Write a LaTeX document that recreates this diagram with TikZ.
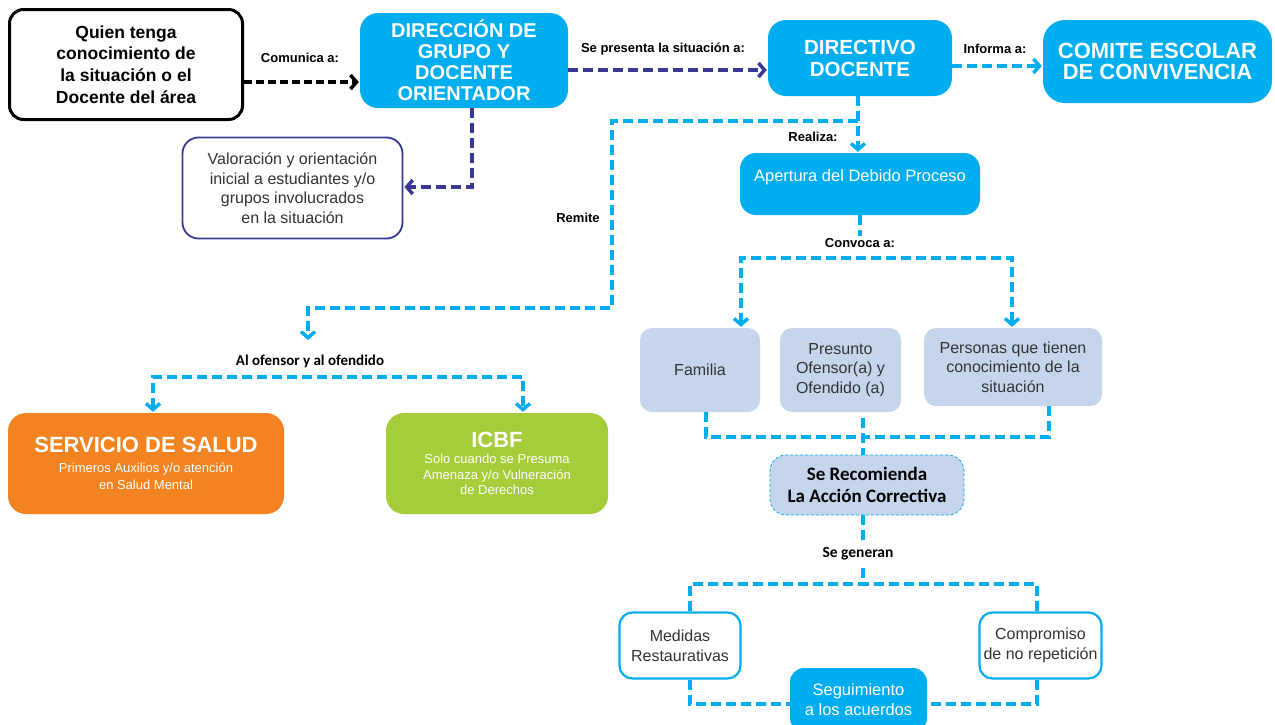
\documentclass[tikz,border=0pt]{standalone}
\usepackage{fontspec}
\setmainfont{Liberation Sans}
\newfontfamily\calib{Carlito}
\usetikzlibrary{arrows.meta,calc}
\definecolor{cy}{HTML}{00AEEF}
\definecolor{dkb}{HTML}{3A3895}
\definecolor{lb}{HTML}{C5D6EC}
\definecolor{org}{HTML}{F38320}
\definecolor{grn}{HTML}{A5CD39}
\definecolor{txt}{HTML}{333333}
\begin{document}
\begin{tikzpicture}[x=1pt,y=-1pt,
  cybox/.style={rectangle,fill=cy,draw=none,rounded corners=18pt,text=white,align=center,inner sep=0pt},
  lbbox/.style={rectangle,fill=lb,draw=none,rounded corners=12pt,text=txt,align=center,inner sep=0pt,
     font=\fontsize{16}{19.5}\selectfont},
  whbox/.style={rectangle,fill=white,draw=cy,line width=2.2pt,rounded corners=13pt,text=txt,align=center,inner sep=0pt,
     font=\fontsize{16}{20}\selectfont},
  lbl/.style={font=\bfseries\fontsize{13}{15}\selectfont,text=black,inner sep=0pt},
  link/.style={line width=3.5pt,dash pattern=on 10pt off 5pt},
  tip/.style={-{Straight Barb[length=6pt,width=14pt]},shorten >=1pt},
  tips/.style={{Straight Barb[length=6pt,width=14pt]}-{Straight Barb[length=6pt,width=14pt]},shorten >=1pt,shorten <=1pt}]
\useasboundingbox (0,0) rectangle (1275,724);
\fill[white] (0,0) rectangle (1275,724);

% ---- nodes ----
\node[rectangle,draw=black,line width=3pt,rounded corners=14pt,fill=white,align=center,inner sep=0pt,
  minimum width=233pt,minimum height=110pt,font=\bfseries\fontsize{17.5}{21.7}\selectfont]
  (quien) at (126,64.5) {Quien tenga\\conocimiento de\\la situación o el\\Docente del área};
\node[cybox,minimum width=208pt,minimum height=95pt,font=\bfseries\fontsize{20}{21}\selectfont]
  (dir) at (464,60.5) {DIRECCIÓN DE\\GRUPO Y\\DOCENTE\\ORIENTADOR};
\node[cybox,minimum width=184pt,minimum height=76pt,font=\bfseries\fontsize{20.5}{22}\selectfont]
  (directivo) at (860,58) {DIRECTIVO\\DOCENTE};
\node[cybox,minimum width=229pt,minimum height=83pt,rounded corners=22pt,font=\bfseries\fontsize{22}{21}\selectfont]
  (comite) at (1157.5,61.5) {COMITE ESCOLAR\\DE CONVIVENCIA};
\node[rectangle,draw=dkb,line width=1.8pt,rounded corners=16pt,fill=white,align=center,inner sep=0pt,text=txt,
  minimum width=220pt,minimum height=101pt,font=\fontsize{16}{19.5}\selectfont]
  (valor) at (292.5,188) {Valoración y orientación\\inicial a estudiantes y/o\\grupos involucrados\\en la situación};
\node[cybox,minimum width=240pt,minimum height=62pt,rounded corners=16pt,font=\fontsize{16.5}{16}\selectfont]
  (apertura) at (860,184) {Apertura del Debido Proceso\\\mbox{}};
\node[lbbox,minimum width=120pt,minimum height=84pt] (familia) at (700,370) {Familia};
\node[lbbox,minimum width=121pt,minimum height=84pt] (presunto) at (840.5,370) {Presunto\\Ofensor(a) y\\Ofendido (a)};
\node[lbbox,minimum width=178pt,minimum height=78pt] (personas) at (1013,367) {Personas que tienen\\conocimiento de la\\situación};
\node[rectangle,fill=lb,draw=cy,line width=0.8pt,dash pattern=on 3pt off 2pt,rounded corners=16pt,align=center,
  inner sep=0pt,minimum width=194pt,minimum height=60pt,font=\calib\bfseries\fontsize{19}{22}\selectfont,text=black]
  (recom) at (867,485) {Se Recomienda\\La Acción Correctiva};
\node[rectangle,fill=org,rounded corners=18pt,align=center,inner sep=0pt,text=white,
  minimum width=276pt,minimum height=101pt,font=\fontsize{13}{17}\selectfont]
  (salud) at (146,463.5) {{\fontsize{22}{24}\selectfont\bfseries SERVICIO DE SALUD}\\[3pt]Primeros Auxilios y/o atención\\en Salud Mental};
\node[rectangle,fill=grn,rounded corners=18pt,align=center,inner sep=0pt,text=white,
  minimum width=222pt,minimum height=101pt,font=\fontsize{13}{15.5}\selectfont]
  (icbf) at (497,463.5) {{\fontsize{22}{24}\selectfont\bfseries ICBF}\\[1pt]Solo cuando se Presuma\\Amenaza y/o Vulneración\\de Derechos};
\node[whbox,minimum width=121pt,minimum height=66pt] (medidas) at (680,645.5) {Medidas\\Restaurativas};
\node[whbox,minimum width=122pt,minimum height=66pt] (compromiso) at (1040.5,645.5) {Compromiso\\de no repetición};
\node[cybox,minimum width=137pt,minimum height=64pt,rounded corners=14pt,font=\fontsize{16.5}{20}\selectfont]
  (seguim) at (858.5,700) {Seguimiento\\a los acuerdos};

% ---- labels ----
\node[lbl] (lcom) at (300,58) {Comunica a:};
\node[lbl] (lpres) at (663,49) {Se presenta la situación a:};
\node[lbl] (linf) at (995,49) {Informa a:};
\node[lbl] (lrea) at (813,137) {Realiza:};
\node[lbl] (lrem) at (578,218) {Remite};
\node[lbl] (lconv) at (860,243) {Convoca a:};
\node[font=\calib\bfseries\fontsize{15}{17}\selectfont,inner sep=0pt] (lofe) at (310,361) {Al ofensor y al ofendido};
\node[font=\calib\bfseries\fontsize{15.5}{17}\selectfont,inner sep=0pt] (lgen) at (858,554) {Se generan};

% ---- coordinates ----
\coordinate (rem) at (858,121);
\coordinate (remc) at (612,308);
\coordinate (ofe) at (308,341);
\coordinate (bl) at (153,377);
\coordinate (br) at (523,377);
\coordinate (ap1) at (860,236);
\coordinate (cl) at (741,258);
\coordinate (cr) at (1012,258);
\coordinate (jn) at (863,437);
\coordinate (g1) at (863,542);
\coordinate (g2) at (863,568);
\coordinate (gn) at (863,584);

% ---- connectors ----
\draw[link,black,tip,dash pattern=on 8pt off 4pt] ([yshift=-17.5pt]quien.east) -- ([yshift=-21.5pt]dir.west);
\draw[link,dkb,tip] ([yshift=-9.5pt]dir.east) -- ([yshift=-12pt]directivo.west);
\draw[link,cy,tip] ([yshift=-8pt]directivo.east) -- ([yshift=-4.5pt]comite.west);
\draw[link,dkb,tip] ([xshift=8pt]dir.south) |- ([yshift=1pt]valor.east);
\draw[link,cy,tip] ([xshift=-2pt]directivo.south) -- ([xshift=-2pt]apertura.north);
\draw[link,cy,tip] (rem) -| (remc) -| (ofe);
\draw[link,cy,tips] (bl |- salud.north) -- (bl) -- (br) -- (br |- icbf.north);
\draw[link,cy] (apertura.south) -- (ap1);
\draw[link,cy,tips] (cl |- familia.north) -- (cl) -- (cr) -- (cr |- personas.north);
\draw[link,cy] ([xshift=6pt]familia.south) |- (jn);
\draw[link,cy] ([xshift=36pt]personas.south) |- (jn);
\draw[link,cy] ([xshift=22.5pt,yshift=-6pt]presunto.south) -- (jn) -- ([xshift=-4pt]recom.north);
\draw[link,cy] ([xshift=-4pt]recom.south) -- (g1);
\draw[link,cy] (g2) -- (gn);
\draw[link,cy] ([xshift=10pt]medidas.north) |- (gn);
\draw[link,cy] ([xshift=-3.5pt]compromiso.north) |- (gn);
\draw[link,cy] ([xshift=10pt]medidas.south) |- ([yshift=-4pt]seguim.west);
\draw[link,cy] ([xshift=-3.5pt]compromiso.south) |- ([yshift=-4pt]seguim.east);
\end{tikzpicture}
\end{document}
